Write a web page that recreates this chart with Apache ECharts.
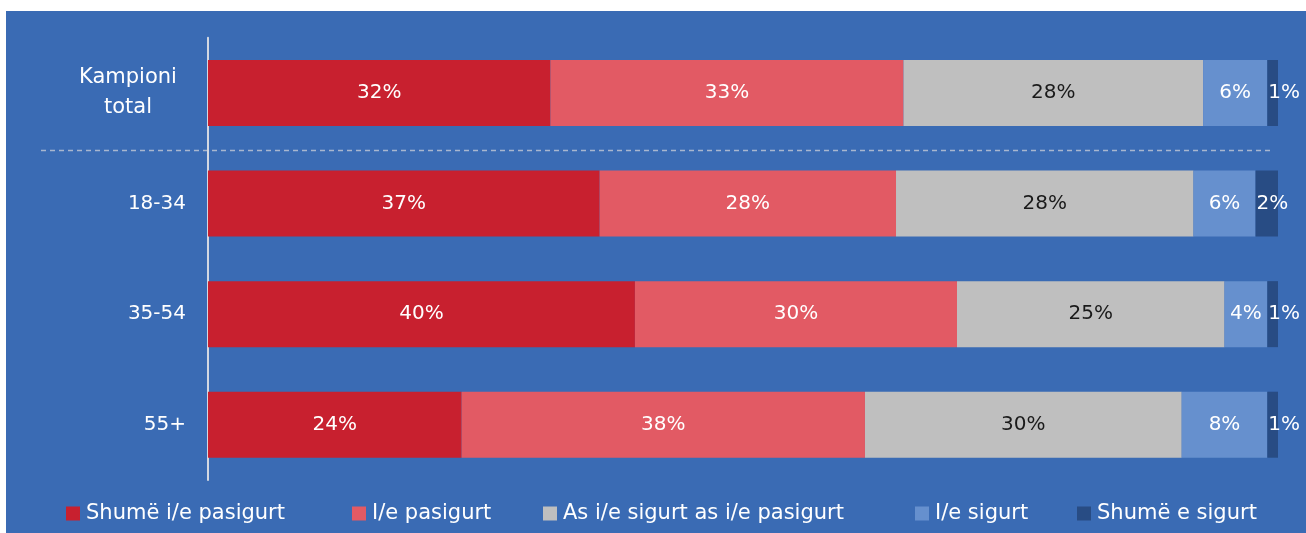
<!DOCTYPE html>
<html>
<head>
<meta charset="utf-8">
<script src="https://cdn.jsdelivr.net/npm/echarts@6/dist/echarts.min.js"></script>
<style>
html, body { margin: 0; padding: 0; background: #ffffff; }
#chartBox { position: absolute; left: 6px; top: 11px; width: 1300px; height: 522px; }
</style>
</head>
<body>
<div id="chartBox"></div>
<script>
// categories, top to bottom
var categories = ['Kampioni total', '18-34', '35-54', '55+'];
var seriesNames = ['Shumë i/e pasigurt', 'I/e pasigurt', 'As i/e sigurt as i/e pasigurt', 'I/e sigurt', 'Shumë e sigurt'];
// values (labels shown rounded)
var shumePasigurt = [32.0, 36.6, 39.9, 23.7];
var pasigurt      = [33.0, 27.7, 30.1, 37.7];
var asAs          = [28.0, 27.8, 25.0, 29.6];
var sigurt        = [6.0, 5.8, 4.0, 8.0];
var shumeSigurt   = [1.0, 2.1, 1.0, 1.0];

var colors = ['#C8202F', '#E25A64', '#BFBFBF', '#6690CE', '#284C84'];
var labelColors = ['#ffffff', '#ffffff', '#1a1a1a', '#ffffff', '#ffffff'];
var allData = [shumePasigurt, pasigurt, asAs, sigurt, shumeSigurt];
// legend item x positions (one legend per item, so gaps match)
var legendLeft = [60, 346, 537, 909, 1071];
var fontFam = 'DejaVu Sans';

var chartDom = document.getElementById('chartBox');
var myChart = echarts.init(chartDom);

var series = allData.map(function (d, i) {
    return {
        name: seriesNames[i],
        type: 'bar',
        stack: 'total',
        barWidth: 66,
        data: d,
        itemStyle: { color: colors[i] },
        label: {
            show: true,
            position: i === 4 ? 'insideLeft' : 'inside',
            distance: 1,
            color: labelColors[i],
            fontFamily: fontFam,
            fontSize: 20,
            formatter: function (p) { return Math.round(p.value) + '%'; }
        }
    };
});

var legends = seriesNames.map(function (n, i) {
    return {
        left: legendLeft[i],
        top: 492,
        padding: 0,
        itemWidth: 14,
        itemHeight: 14,
        icon: 'rect',
        textStyle: { color: '#ffffff', fontFamily: fontFam, fontSize: 21, padding: [0, 0, 0, 1] },
        data: [n]
    };
});

var option = {
    backgroundColor: '#3A6BB4',
    animation: false,
    color: colors,
    grid: { left: 202, right: 28, top: 26.7, bottom: 53 },
    xAxis: {
        type: 'value',
        min: 0,
        max: 100,
        show: false
    },
    yAxis: {
        type: 'category',
        inverse: true,
        data: categories,
        axisLine: { show: true, lineStyle: { color: '#D3D8E2', width: 2 } },
        axisTick: { show: false },
        axisLabel: {
            margin: 22,
            color: '#ffffff',
            fontFamily: fontFam,
            fontSize: 20,
            lineHeight: 30,
            formatter: function (v) {
                if (v === 'Kampioni total') return '{a|Kampioni}\n{a|total}';
                return v;
            },
            rich: {
                a: { width: 116, align: 'center', color: '#ffffff', fontFamily: fontFam, fontSize: 21, lineHeight: 30 }
            }
        }
    },
    legend: legends,
    graphic: [{
        type: 'line',
        shape: { x1: 35, y1: 139.5, x2: 1264, y2: 139.5 },
        style: { stroke: '#A8B6CF', lineWidth: 1.5, lineDash: [5, 4] }
    }],
    series: series
};
myChart.setOption(option);
</script>
</body>
</html>
